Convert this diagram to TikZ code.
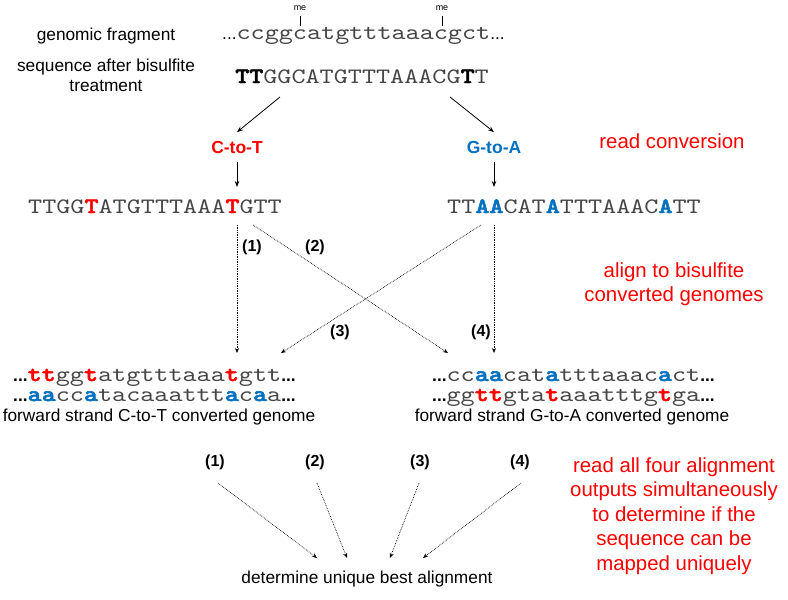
\documentclass[tikz,border=0pt]{standalone}
\usepackage{fontspec}
\setmainfont{Liberation Sans}
\newfontfamily\seqf{lmmono10-regular.otf}[FakeStretch=1.22]
\newfontfamily\seqb{lmmonolt10-bold.otf}[FakeStretch=1.22,FakeBold=2.2]
\usetikzlibrary{arrows.meta}
\definecolor{cred}{RGB}{255,0,0}
\definecolor{cblue}{RGB}{0,112,192}
\definecolor{seqgray}{RGB}{70,70,70}
\newcommand\rb[1]{{\seqb\color{cred}#1}}
\newcommand\bb[1]{{\seqb\color{cblue}#1}}
\newcommand\kb[1]{{\seqb\color{black}#1}}
\newcommand\dts{{\normalfont\color{black}\fontsize{17.3}{20}\selectfont ...}}
\newcommand\bdts{{\normalfont\color{black}\fontsize{17.3}{20}\selectfont\bfseries ...}}
\tikzset{
  lab/.style={font=\fontsize{17.3}{20}\selectfont, inner sep=0pt},
  redlab/.style={font=\fontsize{20.4}{24.5}\selectfont, text=cred, align=center, inner sep=0pt},
  seq/.style={font=\seqf\fontsize{22}{26}\selectfont, text=seqgray, inner sep=0pt, anchor=base west},
  num/.style={font=\bfseries\fontsize{16}{19}\selectfont, inner sep=0pt},
  conv/.style={font=\bfseries\fontsize{17.5}{20}\selectfont, inner xsep=0pt, inner ysep=8.5pt},
  arr/.style={-{Stealth[length=6pt,width=4.5pt]}, line width=0.8pt},
  darr/.style={-{Stealth[length=5pt,width=4pt]}, line width=0.7pt, densely dotted},
  tickline/.style={line width=0.8pt},
  melab/.style={font=\fontsize{9}{10}\selectfont, inner sep=0pt}
}
\begin{document}
\begin{tikzpicture}[x=1pt,y=-1pt]
\fill[white] (0,0) rectangle (788,600);
\useasboundingbox (0,0) rectangle (788,600);

% left labels
\node[lab, anchor=base] (gf) at (106,40) {genomic fragment};
\node[lab, align=center] (sab) at (106,75) {sequence after bisulfite\\treatment};

% genomic fragment and bisulfite sequence
\node[seq] (frag) at (222,39) {\dts ccggcatgtttaaacgct\dts};
\node[melab] (me1) at (300,8) {me};
\node[melab] (me2) at (442,8) {me};
\coordinate (t1a) at (300,16); \coordinate (t1b) at (300,26);
\coordinate (t2a) at (442,16); \coordinate (t2b) at (442,26);
\draw[tickline] (t1a) -- (t1b);
\draw[tickline] (t2a) -- (t2b);
\node[seq] (tt) at (235,83) {\kb{TT}GGCATGTTTAAACG\kb{T}T};

% read conversion
\coordinate (ttL) at (280,97);
\coordinate (ttR) at (450,97);
\node[conv, text=cred] (ctot) at (237,147) {C-to-T};
\node[conv, text=cblue] (gtoa) at (494,147) {G-to-A};
\draw[arr] (ttL) -- (ctot.north);
\draw[arr] (ttR) -- (gtoa.north);
\coordinate (lseqIn) at (237,187);
\coordinate (rseqIn) at (494,187);
\draw[arr] (ctot.south) -- (lseqIn);
\draw[arr] (gtoa.south) -- (rseqIn);
\node[redlab, anchor=base] (rc) at (672,148) {read conversion};

% converted reads
\node[seq] (lseq) at (28,213) {TTGG\rb{T}ATGTTTAAA\rb{T}GTT};
\node[seq] (rseq) at (447,213) {TT\bb{AA}CAT\bb{A}TTTAAAC\bb{A}TT};

% alignments
\coordinate (lsA) at (237,225); \coordinate (lsB) at (253,225);
\coordinate (rsA) at (481,225); \coordinate (rsB) at (494,225);
\coordinate (lgA) at (237,353); \coordinate (lgB) at (281,353);
\coordinate (rgA) at (448,353); \coordinate (rgB) at (494,353);
\draw[darr] (lsA) -- (lgA);
\draw[darr] (lsB) -- (rgA);
\draw[darr] (rsA) -- (lgB);
\draw[darr] (rsB) -- (rgB);
\node[num] (n1) at (252,247) {(1)};
\node[num] (n2) at (315,247) {(2)};
\node[num] (n3) at (340,332) {(3)};
\node[num] (n4) at (481,332) {(4)};
\node[redlab] (atb) at (674,284) {align to bisulfite\\converted genomes};

% genomes
\node[seq] (lg1) at (13,381) {\bdts\rb{tt}gg\rb{t}atgtttaaa\rb{t}gtt\bdts};
\node[seq] (lg2) at (13,401) {\bdts\bb{aa}cc\bb{a}tacaaattt\bb{a}c\bb{a}a\bdts};
\node[lab, anchor=base] (lgl) at (159,421) {forward strand C-to-T converted genome};
\node[seq] (rg1) at (432,381) {\bdts cc\bb{aa}cat\bb{a}tttaaac\bb{a}ct\bdts};
\node[seq] (rg2) at (432,401) {\bdts gg\rb{tt}gta\rb{t}aaatttg\rb{t}ga\bdts};
\node[lab, anchor=base] (rgl) at (572,421) {forward strand G-to-A converted genome};

% final step
\node[num] (m1) at (215,462) {(1)};
\node[num] (m2) at (315,462) {(2)};
\node[num] (m3) at (420,462) {(3)};
\node[num] (m4) at (520,462) {(4)};
\coordinate (m1s) at (218,483); \coordinate (m2s) at (317,483);
\coordinate (m3s) at (419,483); \coordinate (m4s) at (521,483);
\coordinate (e1) at (317,558); \coordinate (e2) at (347,558);
\coordinate (e3) at (390,558); \coordinate (e4) at (423,558);
\draw[darr] (m1s) -- (e1);
\draw[darr] (m2s) -- (e2);
\draw[darr] (m3s) -- (e3);
\draw[darr] (m4s) -- (e4);
\node[lab, anchor=base] (best) at (367,583) {determine unique best alignment};
\node[redlab] (rall) at (674,516) {read all four alignment\\outputs simultaneously\\to determine if the\\sequence can be\\mapped uniquely};
\end{tikzpicture}
\end{document}
